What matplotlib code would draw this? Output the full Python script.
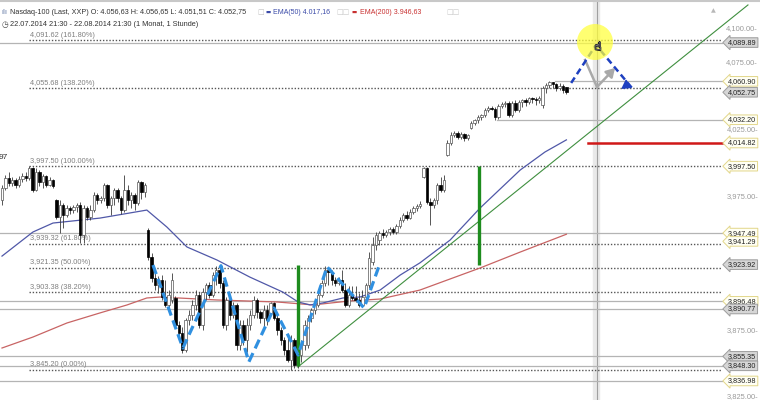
import matplotlib
matplotlib.use('Agg')
import matplotlib.pyplot as plt
from matplotlib.patches import Rectangle, Ellipse
import matplotlib.patheffects as pe

plt.rcParams['font.family'] = ['Liberation Sans', 'DejaVu Sans']

# ---------------- data (hourly candles, Nasdaq-100) ----------------
opens = [3972.2, 3981.2, 3988.7, 3985.0, 3987.2, 3983.5, 3988.0, 3990.2, 3988.7, 3996.2,
         3979.7, 3993.2, 3985.7, 3990.2, 3983.5, 3987.2, 3972.2, 3959.5, 3968.5, 3961.0,
         3966.2, 3964.7, 3967.0, 3968.5, 3946.0, 3966.2, 3959.5, 3964.7, 3976.0, 3972.2,
         3973.8, 3983.5, 3968.5, 3973.8, 3979.7, 3973.8, 3964.7, 3979.7, 3972.2, 3976.0,
         3970.0, 3985.7, 3978.2, 3949.8, 3929.6, 3913.9, 3908.7, 3912.4, 3899.7, 3893.8,
         3897.5, 3899.0, 3878.8, 3872.8, 3860.1, 3882.5, 3886.3, 3893.8, 3901.2, 3878.8,
         3903.4, 3908.7, 3901.2, 3916.1, 3919.9, 3910.2, 3878.8, 3897.5, 3886.3, 3893.8,
         3863.9, 3878.8, 3867.6, 3878.8, 3886.3, 3897.5, 3888.5, 3884.0, 3890.0, 3887.8,
         3895.3, 3884.0, 3875.1, 3867.6, 3860.1, 3852.7, 3867.6, 3848.9, 3856.4, 3863.9,
         3863.9, 3884.0, 3890.0, 3893.8, 3901.2, 3910.2, 3919.9, 3918.4, 3912.4, 3910.2,
         3912.4, 3904.9, 3893.8, 3901.2, 3899.0, 3897.5, 3893.8, 3899.7, 3908.7, 3925.9,
         3938.6, 3942.3, 3947.5, 3946.0, 3948.3, 3950.5, 3948.3, 3952.8, 3957.2, 3961.0,
         3958.7, 3963.2, 3966.2, 3967.7, 3989.4, 3996.2, 3970.7, 3968.5, 3972.2, 3983.5,
         3979.7, 4005.9, 4014.9, 4020.8, 4022.3, 4019.3, 4021.6, 4018.6, 4026.1, 4029.8,
         4032.1, 4034.3, 4035.8, 4039.5, 4041.0, 4040.3, 4034.3, 4042.5, 4044.0, 4044.8,
         4035.8, 4044.8, 4039.5, 4045.5, 4047.0, 4045.5, 4048.5, 4047.7, 4047.0, 4043.3,
         4055.9, 4058.2, 4060.4, 4058.9, 4055.9, 4057.4, 4056.63]
closes = [3981.2, 3988.7, 3985.0, 3987.2, 3983.5, 3988.0, 3990.2, 3988.7, 3996.2, 3979.7,
          3993.2, 3985.7, 3990.2, 3983.5, 3987.2, 3982.7, 3959.5, 3968.5, 3961.0, 3966.2,
          3964.7, 3967.0, 3968.5, 3946.0, 3966.2, 3959.5, 3964.7, 3976.0, 3972.2, 3973.8,
          3983.5, 3968.5, 3973.8, 3979.7, 3973.8, 3964.7, 3979.7, 3972.2, 3976.0, 3970.0,
          3985.7, 3978.2, 3983.5, 3929.6, 3913.9, 3908.7, 3912.4, 3899.7, 3893.8, 3901.2,
          3912.4, 3878.8, 3872.8, 3860.1, 3882.5, 3886.3, 3893.8, 3901.2, 3878.8, 3903.4,
          3908.7, 3901.2, 3916.1, 3919.9, 3910.2, 3878.8, 3897.5, 3886.3, 3893.8, 3863.9,
          3878.8, 3867.6, 3878.8, 3886.3, 3897.5, 3888.5, 3884.0, 3890.0, 3882.5, 3895.3,
          3884.0, 3875.1, 3867.6, 3860.1, 3852.7, 3867.6, 3848.9, 3856.4, 3863.9, 3878.8,
          3884.0, 3890.0, 3893.8, 3901.2, 3910.2, 3919.9, 3918.4, 3912.4, 3910.2, 3912.4,
          3904.9, 3893.8, 3901.2, 3899.0, 3897.5, 3893.8, 3899.7, 3908.7, 3928.9, 3938.6,
          3946.0, 3947.5, 3946.0, 3948.3, 3950.5, 3948.3, 3952.8, 3957.2, 3961.0, 3958.7,
          3963.2, 3966.2, 3967.7, 3969.2, 3996.2, 3970.7, 3968.5, 3972.2, 3983.5, 3979.7,
          3987.2, 4014.9, 4020.8, 4022.3, 4019.3, 4021.6, 4018.6, 4020.8, 4029.8, 4032.1,
          4034.3, 4035.8, 4039.5, 4041.0, 4040.3, 4034.3, 4042.5, 4044.0, 4044.8, 4035.8,
          4044.8, 4039.5, 4045.5, 4047.0, 4045.5, 4048.5, 4047.7, 4047.0, 4048.5, 4055.9,
          4058.2, 4060.4, 4058.9, 4055.9, 4057.4, 4054.4, 4052.75]
highs = [3983.5, 3990.9, 3993.2, 3989.4, 3988.7, 3990.2, 3992.4, 3993.2, 3997.5, 3997.0,
         3996.2, 3994.7, 3991.7, 3990.9, 3989.4, 3988.0, 3973.0, 3972.2, 3970.0, 3968.5,
         3967.7, 3968.5, 3970.0, 3970.7, 3968.5, 3967.7, 3968.5, 3978.2, 3977.5, 3975.2,
         3985.0, 3984.2, 3975.2, 3981.2, 3981.2, 3975.2, 3990.9, 3983.5, 3978.2, 3977.5,
         3987.2, 3986.5, 3985.0, 3951.3, 3932.6, 3918.4, 3915.4, 3916.1, 3912.4, 3904.9,
         3917.6, 3900.4, 3881.8, 3877.3, 3884.0, 3890.0, 3897.5, 3904.9, 3903.4, 3906.4,
         3910.2, 3910.9, 3918.4, 3922.9, 3921.4, 3912.4, 3899.7, 3899.0, 3896.0, 3895.3,
         3882.5, 3882.5, 3884.0, 3890.0, 3900.4, 3899.0, 3890.0, 3893.8, 3893.8, 3896.0,
         3896.0, 3886.3, 3877.3, 3869.8, 3869.8, 3871.3, 3869.1, 3860.1, 3867.6, 3882.5,
         3886.3, 3891.5, 3894.5, 3903.4, 3912.4, 3922.9, 3921.4, 3919.9, 3914.6, 3914.6,
         3919.9, 3910.2, 3907.9, 3907.9, 3907.9, 3902.7, 3904.9, 3910.2, 3933.3, 3944.5,
         3948.3, 3949.0, 3950.5, 3949.8, 3952.0, 3952.0, 3954.3, 3959.5, 3962.5, 3964.0,
         3965.5, 3967.7, 3969.2, 3971.5, 3996.9, 3996.9, 3973.8, 3973.8, 3985.0, 3989.4,
         3990.9, 4017.1, 4023.1, 4023.8, 4023.8, 4023.1, 4022.3, 4021.6, 4031.3, 4032.8,
         4035.8, 4036.5, 4041.0, 4042.5, 4042.5, 4041.8, 4044.0, 4045.5, 4046.3, 4046.3,
         4046.3, 4047.0, 4047.0, 4047.7, 4048.5, 4049.2, 4049.2, 4049.2, 4049.9, 4057.4,
         4059.7, 4060.9, 4060.5, 4060.0, 4059.7, 4058.9, 4056.65]
lows = [3968.5, 3979.7, 3982.7, 3982.7, 3981.2, 3982.0, 3985.7, 3986.5, 3987.2, 3978.2,
        3979.0, 3982.7, 3981.2, 3982.0, 3982.7, 3981.2, 3958.0, 3947.5, 3951.3, 3959.5,
        3961.7, 3962.5, 3963.2, 3940.1, 3940.1, 3957.2, 3957.5, 3963.2, 3969.2, 3970.0,
        3971.5, 3966.2, 3961.0, 3968.5, 3970.7, 3961.7, 3963.2, 3968.5, 3966.2, 3964.7,
        3968.5, 3973.0, 3974.5, 3927.4, 3910.9, 3904.9, 3902.7, 3897.5, 3892.3, 3890.0,
        3895.3, 3876.6, 3870.6, 3857.9, 3858.6, 3878.8, 3882.5, 3890.0, 3876.6, 3875.1,
        3897.5, 3899.0, 3899.7, 3908.7, 3906.4, 3876.6, 3875.1, 3882.5, 3884.0, 3860.1,
        3860.1, 3863.9, 3858.6, 3875.1, 3884.0, 3884.0, 3880.3, 3875.1, 3878.8, 3886.3,
        3882.5, 3871.3, 3863.9, 3856.4, 3851.2, 3845.2, 3846.7, 3846.7, 3851.2, 3860.1,
        3861.6, 3881.1, 3887.0, 3892.3, 3899.7, 3907.9, 3908.7, 3908.7, 3907.9, 3908.7,
        3903.4, 3892.3, 3892.3, 3897.5, 3896.0, 3892.3, 3892.3, 3899.0, 3906.4, 3923.6,
        3934.8, 3938.6, 3943.8, 3944.5, 3946.0, 3946.8, 3946.8, 3951.3, 3955.8, 3957.2,
        3958.0, 3961.7, 3964.0, 3966.2, 3988.7, 3969.2, 3953.5, 3966.2, 3969.2, 3978.2,
        3978.2, 4005.1, 4013.4, 4019.3, 4017.9, 4017.9, 4016.4, 4017.1, 4025.3, 4028.3,
        4029.8, 4032.1, 4034.3, 4038.0, 4039.5, 4032.2, 4032.8, 4041.0, 4041.8, 4034.3,
        4034.3, 4038.0, 4038.0, 4041.8, 4042.5, 4044.0, 4044.8, 4043.3, 4044.8, 4041.0,
        4052.2, 4055.9, 4055.9, 4053.7, 4054.4, 4052.2, 4051.51]

# EMA curves (bar index, value)
ema50_idx = [0, 9.1, 15, 28.8, 42.6, 48.5, 54.4, 63.2, 72.9, 82.6, 87.1, 90.6, 94.4, 100.3,
             105.3, 111.2, 117.1, 122.9, 131.8, 140.6, 152.4, 159.7, 166]
ema50_val = [3930.3, 3948.3, 3955.0, 3958.7, 3964.7, 3952.0, 3937.1, 3927.4, 3914.6, 3903.4,
             3896.0, 3893.8, 3895.3, 3899.0, 3899.7, 3904.9, 3916.1, 3925.2, 3942.3, 3966.2,
             3994.6, 4008.1, 4017.16]
ema200_idx = [0, 9.1, 19.1, 28.8, 36.8, 42.6, 46.5, 63.2, 80.9, 91.5, 102.4, 111.2, 122.9,
              131.8, 140.6, 152.4, 166]
ema200_val = [3861.6, 3869.8, 3880.3, 3887.8, 3893.8, 3899.0, 3899.7, 3897.5, 3896.0, 3893.8,
              3896.8, 3898.2, 3904.9, 3913.2, 3921.4, 3933.3, 3946.63]

# Fibonacci retracement (from low 3845.20 to high 3997.50)
fib_levels = [4091.62, 4055.68, 3997.50, 3939.32, 3921.35, 3903.38, 3845.20]
fib_pcts = [161.80, 138.20, 100.00, 61.80, 50.00, 38.20, 0.00]
fib_start = 8

# horizontal support/resistance lines (price, start bar)
hlines_price = [4089.89, 4060.90, 4032.20, 3947.49, 3896.48, 3890.77, 3855.35, 3848.30, 3836.98]
hlines_start = [-1, 162.6, 145.6, -1, -1, -1, -1, -1, -1]

# price tags on the right scale (value, style)
tag_vals = [4089.89, 4060.90, 4052.75, 4032.20, 4014.82, 3997.50, 3947.49, 3941.29, 3923.92,
            3896.48, 3890.77, 3855.35, 3848.30, 3836.98]
tag_kind = ['g', 'y', 'g', 'y', 'y', 'y', 'y', 'y', 'g', 'y', 'g', 'g', 'g', 'y']
tick_vals = [4100, 4075, 4025, 3975, 3875, 3825]

# drawings
zigzag_idx = [44.4, 53.2, 64.4, 72.6, 80.0, 87.1, 95.6, 106.5, 111.2]
zigzag_val = [3923.6, 3861.6, 3923.1, 3851.2, 3891.5, 3856.4, 3922.3, 3891.5, 3925.1]
trend_idx = [87.0, 219.4]
trend_val = [3847.4, 4118.0]
measure1 = (87.0, 3848.30, 3923.92)
measure2 = (140.3, 3923.92, 3997.50)
proj_idx = [167.4, 174.7, 185.3]
proj_val = [4059.7, 4088.1, 4055.9]
gray_idx = [171.5, 175.0, 180.3]
gray_val = [4076.9, 4056.7, 4070.9]
red_level = 4014.82
red_start = 172.4
cursor_idx = 175.0

# ---------------- figure ----------------
W, H = 760, 400
fig = plt.figure(figsize=(7.6, 4.0), dpi=100)
ax = fig.add_axes([0, 0, 1, 1])
X0, DX = 2.0, 3.4                 # pixel of first bar, pixels per bar
PT = 0.7474                        # price per pixel
P_TOP = 4121.7
ax.set_xlim(-X0 / DX, (W - X0) / DX)
ax.set_ylim(P_TOP - H * PT, P_TOP)
ax.axis('off')

def bx(px):
    return (px - X0) / DX

line_end = bx(722)

# crosshair
ax.axvspan(cursor_idx - 1.3, cursor_idx + 0.6, color='#e9e9e9', zorder=0)
ax.axvline(cursor_idx, color='#a0a0a0', lw=0.8, zorder=1)

# solid gray horizontal lines
for p, s in zip(hlines_price, hlines_start):
    x0 = ax.get_xlim()[0] if s < 0 else s
    ax.plot([x0, line_end], [p, p], color='#b4b4b4', lw=0.9, zorder=1)

# fib dotted lines + labels
for p, pc in zip(fib_levels, fib_pcts):
    ax.plot([fib_start, line_end], [p, p], color='#555555', lw=1.0,
            linestyle=(0, (1, 1.3)), zorder=2)
    ax.text(fib_start + 0.3, p + 1.2, f"{p:,.2f} ({pc:.2f}%)", fontsize=5.3,
            color='#808080', va='bottom', ha='left', zorder=3)

# EMAs
ax.plot(ema200_idx, ema200_val, color='#c86464', lw=0.9, zorder=3)
ax.plot(ema50_idx, ema50_val, color='#5058a8', lw=0.9, zorder=3)

# trend line
ax.plot(trend_idx, trend_val, color='#3f8f3f', lw=0.8, zorder=3, clip_on=False)

# candles
bw = 0.72
for i, (o, h, l, c) in enumerate(zip(opens, highs, lows, closes)):
    ax.plot([i, i], [l, h], color='#3a3a3a', lw=0.6, zorder=4, solid_capstyle='butt')
    lo, hi = min(o, c), max(o, c)
    if hi - lo < 0.6:
        hi = lo + 0.6
    if c >= o:
        ax.add_patch(Rectangle((i - bw / 2, lo), bw, hi - lo, fc='white', ec='#555555',
                               lw=0.5, zorder=5))
    else:
        ax.add_patch(Rectangle((i - bw / 2, lo), bw, hi - lo, fc='black', ec='black',
                               lw=0.5, zorder=5))

# green measuring bars
for xi, a, b in (measure1, measure2):
    ax.plot([xi, xi], [a, b], color='#1e8c1e', lw=2.4, zorder=6, solid_capstyle='butt')

# blue dashed pattern
ax.plot(zigzag_idx, zigzag_val, color='#3090e0', lw=2.3, linestyle=(0, (3, 1.6)),
        zorder=7, dash_capstyle='butt')

# red level
ax.plot([red_start, line_end], [red_level, red_level], color='#d01818', lw=1.8, zorder=6)

# gray arrow
ax.plot(gray_idx[:2], gray_val[:2], color='#a9a9a9', lw=1.8, zorder=7)
ax.annotate('', xy=(gray_idx[2], gray_val[2]), xytext=(gray_idx[1], gray_val[1]),
            arrowprops=dict(arrowstyle='-|>,head_length=0.5,head_width=0.3',
                            color='#a9a9a9', lw=1.8, shrinkA=0, shrinkB=0), zorder=7)

# dark blue projection
ax.plot(proj_idx, proj_val, color='#1e40c0', lw=1.8, linestyle=(0, (2.6, 1.6)), zorder=8)
ax.annotate('', xy=(proj_idx[2], proj_val[2]),
            xytext=(proj_idx[2] - 1.2, proj_val[2] + 1.45),
            arrowprops=dict(arrowstyle='-|>,head_length=0.5,head_width=0.3',
                            color='#1e40c0', lw=1.2, shrinkA=0, shrinkB=0), zorder=8)

# yellow highlight + cursor
ax.add_patch(Ellipse((bx(595), P_TOP - 42 * PT), 36 / DX, 36 * PT, fc='#ffff3a',
                     alpha=0.72, ec='none', zorder=9))
ax.text(bx(598), P_TOP - 47 * PT, '\u261D', fontsize=8, color='white', ha='center',
        va='center', zorder=10, family=['DejaVu Sans'],
        path_effects=[pe.withStroke(linewidth=1.0, foreground='#222222')])

# right price scale
for v in tick_vals:
    ax.text(bx(758), v, f"{v:,.2f}-", fontsize=5.4, color='#9a9a9a', ha='right',
            va='center', zorder=11)
for v, k in zip(tag_vals, tag_kind):
    if k == 'g':
        fc, ec = '#d6d6d6', '#9c9c9c'
    else:
        fc, ec = '#fffff4', '#e2d68a'
    ax.text(bx(728), v, f"{v:,.2f}", fontsize=5.2, color='#222222', ha='left', va='center',
            zorder=12, bbox=dict(boxstyle='larrow,pad=0.18', fc=fc, ec=ec, lw=0.7))
ax.text(bx(713), P_TOP - 11 * PT, '\u25B2', fontsize=4.5, color='#b8b8b8', ha='center',
        va='center', family=['DejaVu Sans'])

# left cut-off label
ax.text(bx(-1), P_TOP - 157 * PT, '97', fontsize=6, color='#333333', ha='left', va='center')

# ---------------- header ----------------
def ft(x, y, s, **kw):
    fig.text(x / W, 1 - y / H, s, va='center', ha='left', **kw)

fig.add_artist(plt.Line2D([0, 1], [1 - 0.5 / H, 1 - 0.5 / H], color='#c8c8c8', lw=1.5))
ft(1, 12, '\u0131l\u0131', fontsize=5, color='#5870a0', family=['DejaVu Sans'])
ft(10, 12, 'Nasdaq-100 (Last, XXP) O: 4.056,63 H: 4.056,65 L: 4.051,51 C: 4.052,75',
   fontsize=5.2, color='#333333')
ft(257, 12, '\u25A1', fontsize=5, color='#c0c0c0', family=['DejaVu Sans'])
ft(265, 12, '\u25AC', fontsize=4, color='#3a4aa8', family=['DejaVu Sans'])
ft(273, 12, 'EMA(50) 4.017,16', fontsize=5.0, color='#3a4aa8')
ft(336, 12, '\u25A1\u25A1', fontsize=5, color='#c8c8c8', family=['DejaVu Sans'])
ft(352, 12, '\u25AC', fontsize=4, color='#c83030', family=['DejaVu Sans'])
ft(360, 12, 'EMA(200) 3.946,63', fontsize=5.0, color='#c83030')
ft(446, 12, '\u25A1\u25A1', fontsize=5, color='#c8c8c8', family=['DejaVu Sans'])
ft(2, 24, '\u25F7', fontsize=5.5, color='#444444', family=['DejaVu Sans'])
ft(10, 24, '22.07.2014 21:30 - 22.08.2014 21:30 (1 Monat, 1 Stunde)', fontsize=5.3,
   color='#333333')

fig.savefig('out.png', dpi=100)
